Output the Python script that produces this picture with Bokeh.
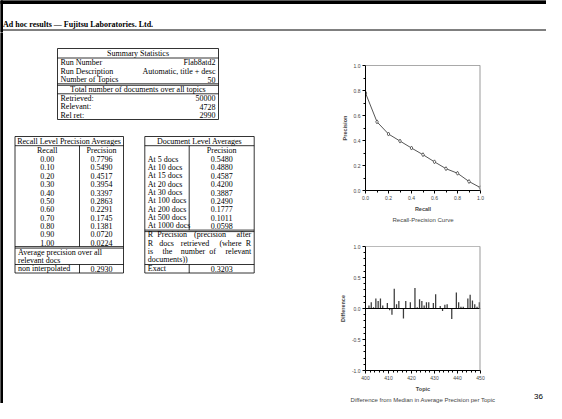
from bokeh.plotting import figure
from bokeh.layouts import column, row
from bokeh.models import Range1d, Span, Title, FixedTicker, NumeralTickFormatter
from bokeh.embed import file_html
from bokeh.resources import INLINE
from bokeh.core.properties import value

# ---------------- data ----------------
page_title = "Ad hoc results \u2014 Fujitsu Laboratories. Ltd."
page_number = "36"
run_number = "Flab8atd2"
run_description = "Automatic, title + desc"
number_of_topics = 50
num_retrieved = 50000
num_relevant = 4728
num_rel_ret = 2990

recall_levels = [0.0, 0.1, 0.2, 0.3, 0.4, 0.5, 0.6, 0.7, 0.8, 0.9, 1.0]
recall_precision = [0.7796, 0.5490, 0.4517, 0.3954, 0.3397, 0.2863,
                    0.2291, 0.1745, 0.1381, 0.0720, 0.0224]
avg_precision_noninterp = 0.2930

doc_cutoffs = [5, 10, 15, 20, 30, 100, 200, 500, 1000]
doc_precision = [0.5480, 0.4880, 0.4587, 0.4200, 0.3887, 0.2490, 0.1777, 0.1011, 0.0598]
r_precision_exact = 0.3203

topics = list(range(401, 451))
topic_diff = [0.00, 0.05, 0.10, 0.02, 0.16, 0.12, 0.16, 0.05, 0.00, 0.09,
              -0.03, -0.10, 0.32, 0.07, 0.12, 0.00, -0.16, 0.12, 0.00, 0.10,
              0.00, 0.33, 0.02, 0.15, 0.12, 0.05, 0.10, 0.10, 0.01, 0.09,
              0.23, 0.00, 0.04, -0.04, 0.06, 0.07, 0.00, -0.17, 0.00, 0.26,
              0.10, 0.03, 0.03, 0.01, 0.16, 0.22, 0.13, 0.07, 0.03, 0.10]

# ---------------- styling ----------------
SERIF = "Liberation Serif"
SANS = "Liberation Sans"
FS = "8px"
ROW = 8.35


def canvas(width, height, x0, x1, y0, y1):
    p = figure(width=width, height=height, x_range=Range1d(x0, x1), y_range=Range1d(y1, y0),
               x_axis_type=None, y_axis_type=None, output_backend="svg",
               toolbar_location=None, min_border=0)
    p.outline_line_color = None
    return p


def put_text(p, xs, ys, labels, align, size=FS, font=SERIF, style="normal"):
    p.text(x=xs, y=ys, text=labels, text_align=align, text_baseline="middle",
           text_font=value(font), text_font_size=size, text_font_style=style,
           text_color="black")


# ---------------- header ----------------
header = canvas(546, 32, 8, 554, 8, 40)
header.quad(left=[8], right=[554], top=[8], bottom=[11], color="black")
header.quad(left=[8], right=[10], top=[8], bottom=[40], color="black")
put_text(header, [10.5], [32], [page_title], "left", size="8px", style="bold")
header.segment(x0=[8], y0=[37.5], x1=[554], y1=[37.5], line_color="black", line_width=1)

# ---------------- tables ----------------
left = canvas(322, 371, 8, 330, 40, 411)
left.quad(left=[8], right=[10], top=[40], bottom=[411], color="black")

segs = []


def hline(y, x0, x1):
    segs.append((x0, y, x1, y))


def vline(x, y0, y1):
    segs.append((x, y0, x, y1))


def box(x0, y0, x1, y1):
    hline(y0, x0, x1); hline(y1, x0, x1); vline(x0, y0, y1); vline(x1, y0, y1)


L, C, R = ([], [], []), ([], [], []), ([], [], [])


def tl(x, y, s):
    L[0].append(x); L[1].append(y); L[2].append(s)


def tc(x, y, s):
    C[0].append(x); C[1].append(y); C[2].append(s)


def tr(x, y, s):
    R[0].append(x); R[1].append(y); R[2].append(s)


# Summary statistics table
sx0, sx1 = 65, 226
box(sx0, 56, sx1, 127)
tc((sx0 + sx1) / 2, 61, "Summary Statistics")
hline(65.5, sx0, sx1)
summary_rows = [("Run Number", run_number), ("Run Description", run_description),
                ("Number of Topics", str(number_of_topics))]
for i, (k, v) in enumerate(summary_rows):
    y = 70.2 + i * 8.4
    tl(sx0 + 3, y, k)
    tr(sx1 - 3, y, v)
hline(91.3, sx0, sx1); hline(92.8, sx0, sx1)
tc((sx0 + sx1) / 2, 97.0, "Total number of documents over all topics")
hline(101.3, sx0, sx1)
total_rows = [("Retrieved:", num_retrieved), ("Relevant:", num_relevant), ("Rel ret:", num_rel_ret)]
for i, (k, v) in enumerate(total_rows):
    y = 105.8 + i * 8.4
    tl(sx0 + 3, y, k)
    tr(sx1 - 3, y, str(v))

# Recall level table
rx0, rx1, rdiv = 22.5, 131, 87
ytop = 144
box(rx0, ytop, rx1, 280.5)
tc((rx0 + rx1) / 2, 148.8, "Recall Level Precision Averages")
hline(153.2, rx0, rx1)
tc((rx0 + rdiv) / 2, 158.2, "Recall")
tc((rdiv + rx1) / 2, 158.2, "Precision")
for i, (r, pr) in enumerate(zip(recall_levels, recall_precision)):
    y = 166.6 + i * ROW
    tc((rx0 + rdiv) / 2, y, f"{r:.2f}")
    tc((rdiv + rx1) / 2, y, f"{pr:.4f}")
ysep = 166.6 + (len(recall_levels) - 1) * ROW + 4
vline(rdiv, 153.2, ysep)
hline(ysep, rx0, rx1); hline(ysep + 1.5, rx0, rx1)
tl(rx0 + 3, 259.7, "Average precision over all")
tl(rx0 + 3, 268.0, "relevant docs")
hline(272, rx0, rx1)
vline(rdiv, 272, 280.5)
tl(rx0 + 3, 276.3, "non interpolated")
tc((rdiv + rx1) / 2, 276.3, f"{avg_precision_noninterp:.4f}")

# Document level table
dx0, dx1, ddiv = 152.3, 261.7, 196.7
box(dx0, ytop, dx1, 280.5)
tc((dx0 + dx1) / 2, 148.8, "Document Level Averages")
hline(153.2, dx0, dx1)
tc((ddiv + dx1) / 2, 158.2, "Precision")
for i, (n, pr) in enumerate(zip(doc_cutoffs, doc_precision)):
    y = 166.6 + i * ROW
    tl(dx0 + 3, y, f"At {n} docs")
    tc((ddiv + dx1) / 2, y, f"{pr:.4f}")
ysep2 = 166.6 + (len(doc_cutoffs) - 1) * ROW + 4.2
vline(ddiv, 153.2, ysep2)
hline(ysep2, dx0, dx1); hline(ysep2 + 1.5, dx0, dx1)
par_lines = ["R Precision (precision after", "R docs retrieved (where R",
             "is the number of relevant", "documents))"]
CW = 3.4
for j, line in enumerate(par_lines):
    y = 242.3 + j * ROW
    words = line.split(" ")
    if j == len(par_lines) - 1 or len(words) == 1:
        tl(dx0 + 3, y, line)
        continue
    avail = (dx1 - 3) - (dx0 + 3)
    widths = [len(w) * CW for w in words]
    gap = (avail - sum(widths)) / (len(words) - 1)
    x = dx0 + 3
    for k, w in enumerate(words):
        if k == len(words) - 1:
            tr(dx1 - 3, y, w)
        else:
            tl(x, y, w)
        x += widths[k] + gap
hline(272, dx0, dx1)
vline(ddiv, 272, 280.5)
tl(dx0 + 3, 276.3, "Exact")
tc((ddiv + dx1) / 2, 276.3, f"{r_precision_exact:.4f}")

left.segment(x0=[s[0] for s in segs], y0=[s[1] for s in segs],
             x1=[s[2] for s in segs], y1=[s[3] for s in segs],
             line_color="black", line_width=0.8)
put_text(left, *L, "left")
put_text(left, *C, "center")
put_text(left, *R, "right")


# ---------------- plots ----------------
def style_axes(p):
    for ax in p.axis:
        ax.axis_line_color = "black"
        ax.axis_line_width = 1
        ax.major_tick_in = 0
        ax.major_tick_out = 3
        ax.minor_tick_in = 0
        ax.minor_tick_out = 2
        ax.major_label_text_font = SANS
        ax.major_label_text_font_size = "5px"
        ax.axis_label_text_font = SANS
        ax.axis_label_text_font_size = "5.5px"
        ax.axis_label_text_font_style = "bold"
        ax.axis_label_standoff = 3
        ax.major_label_standoff = 2
    p.grid.visible = False
    p.outline_line_color = None


PW = 184  # plot column width (page x 330..514)

rp = figure(width=PW, height=195, x_range=Range1d(0, 1), y_range=Range1d(0, 1),
            output_backend="svg", toolbar_location=None,
            min_border_left=43, min_border_right=16, min_border_top=33, min_border_bottom=37)
rp.line(recall_levels, recall_precision, line_color="#555555", line_width=1)
rp.scatter(recall_levels, recall_precision, marker="diamond", size=4,
           fill_color="white", line_color="#444444", line_width=0.8)
rp.add_layout(Span(location=1, dimension="height", line_color="#9a9a9a", line_width=2))
rp.add_layout(Span(location=1, dimension="width", line_color="#555555", line_width=1))
rp.xaxis.axis_label = "Recall"
rp.yaxis.axis_label = "Precision"
rp.xaxis.ticker = FixedTicker(ticks=[0, 0.2, 0.4, 0.6, 0.8, 1.0],
                              minor_ticks=[0.1, 0.3, 0.5, 0.7, 0.9])
rp.yaxis.ticker = FixedTicker(ticks=[0, 0.2, 0.4, 0.6, 0.8, 1.0],
                              minor_ticks=[0.1, 0.3, 0.5, 0.7, 0.9])
rp.xaxis.formatter = NumeralTickFormatter(format="0.0")
rp.yaxis.formatter = NumeralTickFormatter(format="0.0")
style_axes(rp)
rp.add_layout(Title(text="Recall-Precision Curve", align="center", text_font=SANS,
                    text_font_size="6px", text_font_style="normal", standoff=1), "below")

bar = figure(width=PW, height=176, x_range=Range1d(400, 450), y_range=Range1d(-1, 1),
             output_backend="svg", toolbar_location=None,
             min_border_left=37, min_border_right=26, min_border_top=19, min_border_bottom=33)
bar.vbar(x=[t - 0.5 for t in topics], top=topic_diff, bottom=0, width=0.55,
         fill_color="#3c3c3c", line_color=None)
bar.add_layout(Span(location=0, dimension="width", line_color="black", line_width=1))
bar.add_layout(Span(location=450, dimension="height", line_color="#9a9a9a", line_width=2))
bar.add_layout(Span(location=1, dimension="width", line_color="#777777", line_width=1))
bar.xaxis.axis_label = "Topic"
bar.yaxis.axis_label = "Difference"
bar.xaxis.ticker = FixedTicker(ticks=[400, 410, 420, 430, 440, 450],
                               minor_ticks=list(range(402, 450, 2)))
bar.yaxis.ticker = FixedTicker(ticks=[-1.0, -0.5, 0.0, 0.5, 1.0],
                               minor_ticks=[-0.9, -0.8, -0.7, -0.6, -0.4, -0.3, -0.2, -0.1,
                                            0.1, 0.2, 0.3, 0.4, 0.6, 0.7, 0.8, 0.9])
bar.yaxis.formatter = NumeralTickFormatter(format="0.0")
style_axes(bar)
bar.add_layout(Title(text="Difference from Median in Average Precision per Topic",
                     align="center", text_font=SANS, text_font_size="6px",
                     text_font_style="normal", standoff=1), "below")

# right margin strip holding the page number
corner = canvas(40, 371, 514, 554, 40, 411)
put_text(corner, [546], [404], [page_number], "center", size="8px", font=SANS)

page = column(header, row(left, column(rp, bar), corner))
open("out.html", "w").write(file_html(page, INLINE))
